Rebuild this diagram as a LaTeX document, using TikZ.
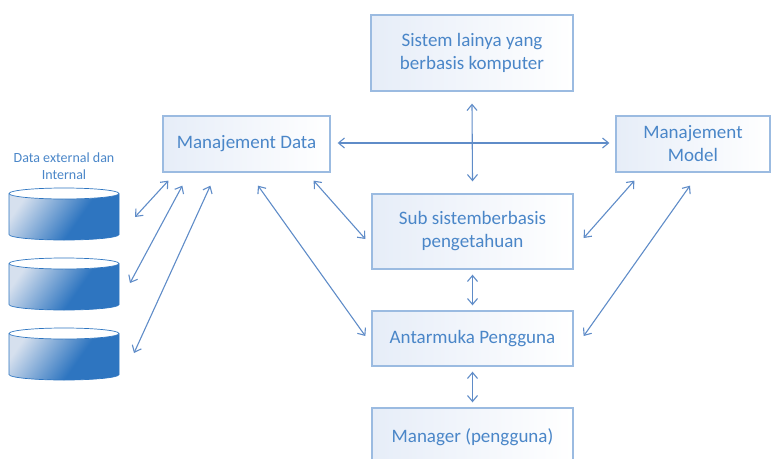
\documentclass[tikz,border=0pt]{standalone}
\usepackage{fontspec}
\setmainfont{Carlito}
\usepackage{xcolor}
\definecolor{boxedge}{RGB}{155,187,225}
\definecolor{boxtint}{RGB}{230,237,248}
\definecolor{inkblue}{RGB}{74,134,200}
\definecolor{linkblue}{RGB}{95,140,200}
\definecolor{cyldark}{RGB}{46,117,192}
\definecolor{cyllight}{RGB}{214,224,238}
\usepackage{tikz}
\usetikzlibrary{arrows.meta,positioning,calc}
\pgfdeclarehorizontalshading{dbshade}{100bp}{%
  color(0bp)=(cyllight); color(24bp)=(cyllight);
  color(58bp)=(cyldark); color(100bp)=(cyldark)}

\begin{document}
\begin{tikzpicture}[
  x=1pt, y=-1pt,
  box/.style={rectangle,draw=boxedge,line width=1.3pt,
              left color=boxtint,right color=white,
              align=center,text=inkblue,inner sep=4pt,
              font=\fontsize{19}{23}\selectfont},
  link/.style={{Straight Barb[length=6pt,width=10pt]}-{Straight Barb[length=6pt,width=10pt]},
               linkblue,line width=1.1pt},
]
  \clip (0,0) rectangle (771,458);

  \node[box,minimum width=202pt,minimum height=76pt](SL) at (472,53)
    {Sistem lainya yang\\berbasis komputer};
  \node[box,minimum width=167pt,minimum height=56pt](MD) at (246.5,144)
    {Manajement Data};
  \node[box,minimum width=154pt,minimum height=56pt](MM) at (693,144)
    {Manajement\\Model};
  \node[box,minimum width=201pt,minimum height=75pt](SS) at (472.5,231.5)
    {Sub sistemberbasis\\pengetahuan};
  \node[box,minimum width=201pt,minimum height=55pt](AP) at (472.5,338.5)
    {Antarmuka Pengguna};
  \node[box,minimum width=201pt,minimum height=58pt](MG) at (472.5,437)
    {Manager (pengguna)};

  %% databases
  \node[font=\fontsize{14}{17}\selectfont,text=inkblue,align=center](DL)
    at (64,166) {Data external dan\\Internal};
  \foreach \yt [count=\i] in {188,258,328}{%
    \shade[shading=dbshade,shading angle=-35]
      (9,\yt+5.5) -- (9,\yt+46.5)
      arc[start angle=180,end angle=0,x radius=55,y radius=5.5]
      -- (119,\yt+5.5)
      arc[start angle=0,end angle=180,x radius=55,y radius=5.5] -- cycle;
    \draw[cyldark,line width=0.7pt]
      (9,\yt+5.5) -- (9,\yt+46.5)
      arc[start angle=180,end angle=0,x radius=55,y radius=5.5]
      -- (119,\yt+5.5);
    \draw[cyldark,line width=0.7pt,fill=white]
      (64,\yt+5.5) ellipse[x radius=55,y radius=5.5];
  }
  \coordinate (db1) at (135,217);
  \coordinate (db2) at (130,283);
  \coordinate (db3) at (134,353);

  %% links
  \draw[link]([xshift=7pt,yshift=1pt]MD.east) -- ([xshift=-6pt,yshift=1pt]MM.west);
  \draw[link]([yshift=-12pt]SL.south) -- ([yshift=12pt]SS.north);
  \draw[link]([yshift=-5pt]SS.south) -- ([yshift=5pt]AP.north);
  \draw[link]([yshift=-5pt]AP.south) -- ([yshift=5pt]MG.north);
  \draw[link]([xshift=-17pt,yshift=-8pt]MD.south east) -- ([xshift=-6pt,yshift=-7.5pt]SS.west);
  \draw[link]([xshift=11.5pt,yshift=-13pt]MD.south) -- ([xshift=-6pt,yshift=2.5pt]AP.west);
  \draw[link]([xshift=19pt,yshift=-8pt]MM.south west) -- ([xshift=10pt,yshift=-6.5pt]SS.east);
  \draw[link]([xshift=-3pt,yshift=-13pt]MM.south) -- ([xshift=10pt,yshift=2.5pt]AP.east);
  \draw[link](db1) -- ([xshift=6pt,yshift=-8pt]MD.south west);
  \draw[link](db2) -- ([xshift=20pt,yshift=-13pt]MD.south west);
  \draw[link](db3) -- ([xshift=48pt,yshift=-13pt]MD.south west);
\end{tikzpicture}
\end{document}
